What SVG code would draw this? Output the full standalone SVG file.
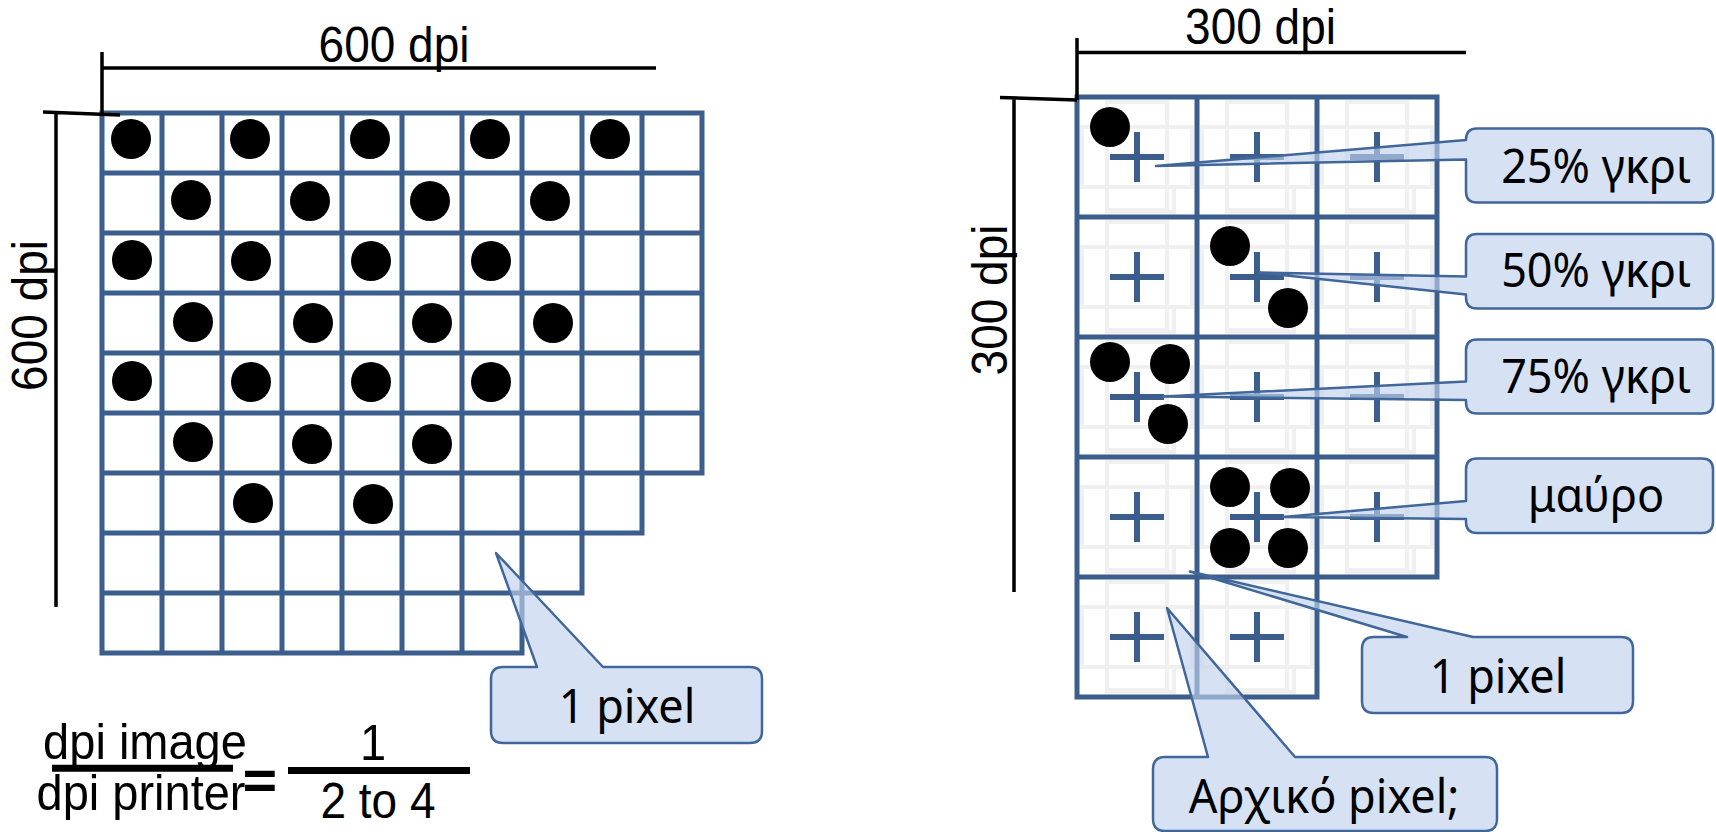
<svg xmlns="http://www.w3.org/2000/svg" width="1716" height="832" viewBox="0 0 1716 832">
<style>
.grid{fill:none;stroke:#3B5E8C;stroke-width:5;stroke-linecap:square}
.sub{fill:none;stroke:#F0F0F0;stroke-width:4}
.plus{stroke:#3B5E8C;stroke-width:6;fill:none}
.dot{fill:#000}
.dim{stroke:#000;stroke-width:3.5;fill:none}
.bar{stroke:#000;stroke-width:7}
.arial{font-family:"Liberation Sans",Arial,sans-serif;fill:#000}
.call{fill:#C0D3EE;fill-opacity:0.65;stroke:#41679A;stroke-width:2.5;stroke-linejoin:round}
.ct{font-family:"Noto Sans","Open Sans",sans-serif;font-size:45px;fill:#000;text-anchor:middle}
</style>
<defs>
<g id="sp" class="sub"><rect x="30" y="5" width="60" height="108"/><rect x="5" y="30" width="110" height="60"/><rect x="30" y="90" width="67" height="25"/></g>
<path id="plus" class="plus" d="M-27,0 H27 M0,-25 V25"/>
<circle id="dot" class="dot" r="20"/>
</defs>
<rect width="1716" height="832" fill="#fff"/>

<g id="left-grid">
<path class="grid" d="M102,113 H702 M102,173 H702 M102,233 H702 M102,293 H702 M102,353 H702 M102,413 H702 M102,473 H702 M102,533 H642 M102,593 H582 M102,653 H522 M102,113 V653 M162,113 V653 M222,113 V653 M282,113 V653 M342,113 V653 M402,113 V653 M462,113 V653 M522,113 V653 M582,113 V593 M642,113 V533 M702,113 V473"/>
</g>
<g id="left-dots">
<use href="#dot" x="131" y="139"/><use href="#dot" x="250" y="139"/><use href="#dot" x="370" y="139"/><use href="#dot" x="490" y="139"/><use href="#dot" x="610" y="139"/>
<use href="#dot" x="191" y="200"/><use href="#dot" x="310" y="201"/><use href="#dot" x="430" y="201"/><use href="#dot" x="550" y="201"/>
<use href="#dot" x="132" y="260"/><use href="#dot" x="251" y="261"/><use href="#dot" x="371" y="261"/><use href="#dot" x="491" y="261"/>
<use href="#dot" x="193" y="322"/><use href="#dot" x="313" y="323"/><use href="#dot" x="432" y="323"/><use href="#dot" x="553" y="323"/>
<use href="#dot" x="132" y="381"/><use href="#dot" x="251" y="382"/><use href="#dot" x="371" y="382"/><use href="#dot" x="491" y="382"/>
<use href="#dot" x="193" y="442"/><use href="#dot" x="312" y="444"/><use href="#dot" x="432" y="444"/>
<use href="#dot" x="253" y="503"/><use href="#dot" x="373" y="504"/>
</g>

<g id="right-grid">
<use href="#sp" x="1077" y="97"/><use href="#sp" x="1197" y="97"/><use href="#sp" x="1317" y="97"/>
<use href="#sp" x="1077" y="217"/><use href="#sp" x="1197" y="217"/><use href="#sp" x="1317" y="217"/>
<use href="#sp" x="1077" y="337"/><use href="#sp" x="1197" y="337"/><use href="#sp" x="1317" y="337"/>
<use href="#sp" x="1077" y="457"/><use href="#sp" x="1197" y="457"/><use href="#sp" x="1317" y="457"/>
<use href="#sp" x="1077" y="577"/><use href="#sp" x="1197" y="577"/>
<path class="grid" d="M1077,97 H1437 M1077,217 H1437 M1077,337 H1437 M1077,457 H1437 M1077,577 H1437 M1077,697 H1317 M1077,97 V697 M1197,97 V697 M1317,97 V697 M1437,97 V577"/>
<use href="#plus" x="1137" y="157"/><use href="#plus" x="1257" y="157"/><use href="#plus" x="1377" y="157"/>
<use href="#plus" x="1137" y="277"/><use href="#plus" x="1257" y="277"/><use href="#plus" x="1377" y="277"/>
<use href="#plus" x="1137" y="397"/><use href="#plus" x="1257" y="397"/><use href="#plus" x="1377" y="397"/>
<use href="#plus" x="1137" y="517"/><use href="#plus" x="1257" y="517"/><use href="#plus" x="1377" y="517"/>
<use href="#plus" x="1137" y="637"/><use href="#plus" x="1257" y="637"/>
</g>
<g id="right-dots">
<use href="#dot" x="1110" y="127"/>
<use href="#dot" x="1230" y="246"/><use href="#dot" x="1288" y="308"/>
<use href="#dot" x="1110" y="362"/><use href="#dot" x="1170" y="364"/><use href="#dot" x="1168" y="424"/>
<use href="#dot" x="1230" y="487"/><use href="#dot" x="1290" y="488"/><use href="#dot" x="1230" y="548"/><use href="#dot" x="1288" y="548"/>
</g>

<g id="connectors">
<path class="dim" d="M102,52 V113 M102,68 H656 M43,112 L120,115 M56,114 V607"/>
<path class="dim" d="M1077,38 V100 M1077,52.5 H1466 M1000,97.5 L1077,100 M1014,99 V592"/>
</g>

<g id="dim-labels">
<text class="arial" transform="translate(394,62) scale(1,1.08)" font-size="46" text-anchor="middle">600 dpi</text>
<text class="arial" transform="translate(46.5,315.5) rotate(-90) scale(1,1.08)" font-size="46" text-anchor="middle">600 dpi</text>
<text class="arial" transform="translate(1260.5,43.5) scale(1,1.08)" font-size="46" text-anchor="middle">300 dpi</text>
<text class="arial" transform="translate(1007,300) rotate(-90) scale(1,1.08)" font-size="46" text-anchor="middle">300 dpi</text>
</g>

<g id="formula">
<text class="arial" transform="translate(145,759) scale(1,1.08)" font-size="47" text-anchor="middle">dpi image</text>
<line class="bar" x1="52" y1="768.3" x2="233" y2="768.3"/>
<text class="arial" transform="translate(141,810) scale(1,1.08)" font-size="47" text-anchor="middle">dpi printer</text>
<text class="arial" x="260" y="800" font-size="57" stroke="#000" stroke-width="2" text-anchor="middle">=</text>
<text class="arial" transform="translate(373,760) scale(1,1.08)" font-size="47" text-anchor="middle">1</text>
<line class="bar" x1="288" y1="770.5" x2="470" y2="770.5"/>
<text class="arial" transform="translate(378,818) scale(1,1.08)" font-size="46" text-anchor="middle">2 to 4</text>
</g>

<g id="callout-1pixel-left">
<path class="call" d="M503,667 L537,667 L496,553 L603,667 L750,667 Q762,667 762,679 L762,731 Q762,743 750,743 L503,743 Q491,743 491,731 L491,679 Q491,667 503,667 Z"/>
<text class="ct" transform="translate(627,723) scale(1,1.06)">1 pixel</text>
</g>
<g id="callout-25">
<path class="call" d="M1477,128.5 L1702,128.5 Q1713,128.5 1713,139.5 L1713,191.5 Q1713,202.5 1702,202.5 L1477,202.5 Q1466,202.5 1466,191.5 L1466,159.5 L1156,166 L1466,140 L1466,139.5 Q1466,128.5 1477,128.5 Z"/>
<text class="ct" transform="translate(1596,182.5) scale(1,1.06)">25% γκρι</text>
</g>
<g id="callout-50">
<path class="call" d="M1477,234 L1702,234 Q1713,234 1713,245 L1713,297.5 Q1713,308.5 1702,308.5 L1477,308.5 Q1466,308.5 1466,297.5 L1466,294.5 L1259,272.5 L1466,276.5 L1466,245 Q1466,234 1477,234 Z"/>
<text class="ct" transform="translate(1596,287) scale(1,1.06)">50% γκρι</text>
</g>
<g id="callout-75">
<path class="call" d="M1477,339.5 L1702,339.5 Q1713,339.5 1713,350.5 L1713,402.5 Q1713,413.5 1702,413.5 L1477,413.5 Q1466,413.5 1466,402.5 L1466,400 L1163,396.5 L1466,381.5 L1466,350.5 Q1466,339.5 1477,339.5 Z"/>
<text class="ct" transform="translate(1596,393) scale(1,1.06)">75% γκρι</text>
</g>
<g id="callout-black">
<path class="call" d="M1477,458.5 L1702,458.5 Q1713,458.5 1713,469.5 L1713,522 Q1713,533 1702,533 L1477,533 Q1466,533 1466,522 L1466,519 L1283,517 L1466,501 L1466,469.5 Q1466,458.5 1477,458.5 Z"/>
<text class="ct" transform="translate(1596,512) scale(1,1.06)">μαύρο</text>
</g>
<g id="callout-1pixel-right">
<path class="call" d="M1374,637 L1407,637 L1190,571.5 L1473,637 L1621,637 Q1633,637 1633,649 L1633,701 Q1633,713 1621,713 L1374,713 Q1362,713 1362,701 L1362,649 Q1362,637 1374,637 Z"/>
<text class="ct" transform="translate(1498,693) scale(1,1.06)">1 pixel</text>
</g>
<g id="callout-original">
<path class="call" d="M1165,757 L1208,757 L1167,608 L1295,757 L1485,757 Q1497,757 1497,769 L1497,819 Q1497,831 1485,831 L1165,831 Q1153,831 1153,819 L1153,769 Q1153,757 1165,757 Z"/>
<text class="ct" transform="translate(1324,813) scale(1,1.06)">Αρχικό pixel;</text>
</g>
</svg>
